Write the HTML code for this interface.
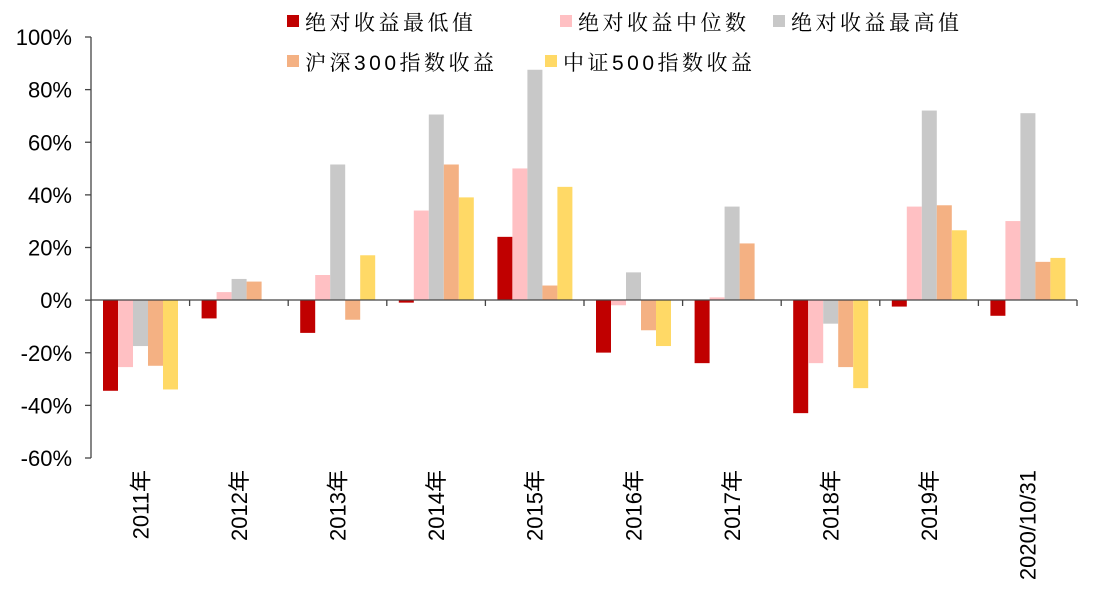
<!DOCTYPE html>
<html><head><meta charset="utf-8"><style>
html,body{margin:0;padding:0;background:#fff;}
svg{display:block;}
.y{font-family:"Liberation Sans",sans-serif;font-size:22px;fill:#000;}
.l{font-family:"Liberation Sans","Noto Serif CJK SC",serif;font-size:21px;fill:#000;letter-spacing:3.5px;}
.x{font-family:"Liberation Sans","Noto Sans CJK SC",sans-serif;font-size:22px;fill:#000;}
</style></head><body>
<svg width="1113" height="597" viewBox="0 0 1113 597" xmlns="http://www.w3.org/2000/svg">
<g id="bars"></g>
<line x1="91" y1="37" x2="91" y2="458" stroke="#444" stroke-width="1.3"/>
<line x1="91" y1="300" x2="1077" y2="300" stroke="#444" stroke-width="1.3"/>
<g id="ax"></g>
<g class="l">
<rect x="287" y="15" width="12" height="12" fill="#C00000"/><text x="305" y="30">绝对收益最低值</text>
<rect x="560" y="15" width="12" height="12" fill="#FFC0C3"/><text x="578" y="30">绝对收益中位数</text>
<rect x="773" y="15" width="12" height="12" fill="#C8C8C8"/><text x="791" y="30">绝对收益最高值</text>
<rect x="287" y="55" width="12" height="12" fill="#F4B183"/><text x="305" y="70">沪深300指数收益</text>
<rect x="545" y="55" width="12" height="12" fill="#FFD966"/><text x="563" y="70">中证500指数收益</text>
</g>
</svg>
<script>
var d=[[-34.5,-25.5,-17.5,-25,-34],[-7,3,8,7,0],[-12.5,9.5,51.5,-7.5,17],[-1,34,70.5,51.5,39],[24,50,87.5,5.5,43],[-20,-2,10.5,-11.5,-17.5],[-24,1,35.5,21.5,0],[-43,-24,-9,-25.5,-33.5],[-2.5,35.5,72,36,26.5],[-6,30,71,14.5,16]];
var c=["#C00000","#FFC0C3","#C8C8C8","#F4B183","#FFD966"];
var labs=["2011年","2012年","2013年","2014年","2015年","2016年","2017年","2018年","2019年","2020/10/31"];
var ns="http://www.w3.org/2000/svg",b=document.getElementById("bars"),ax=document.getElementById("ax");
var k=421/160,gw=98.6;
function el(t,a,p){var e=document.createElementNS(ns,t);for(var q in a)e.setAttribute(q,a[q]);p.appendChild(e);return e;}
d.forEach(function(g,i){g.forEach(function(v,j){if(v===0)return;var h=Math.abs(v)*k;el("rect",{x:91+i*gw+12+j*15,y:v>0?300-h:300,width:15,height:h,fill:c[j]},b);});
el("line",{x1:91+(i+1)*gw,y1:300,x2:91+(i+1)*gw,y2:306,stroke:"#444","stroke-width":1.3},ax);
var cx=91+i*gw+gw/2+8;var t=el("text",{x:0,y:0,"class":"x","text-anchor":"end",transform:"translate("+cx+",470) rotate(-90)"},ax);t.textContent=labs[i];});
for(var i=0;i<=8;i++){var y=37+i*421/8;el("line",{x1:85,y1:y,x2:91,y2:y,stroke:"#444","stroke-width":1.3},ax);var t=el("text",{x:72,y:y+8,"class":"y","text-anchor":"end"},ax);t.textContent=(100-20*i)+"%";}
</script>
</body></html>
